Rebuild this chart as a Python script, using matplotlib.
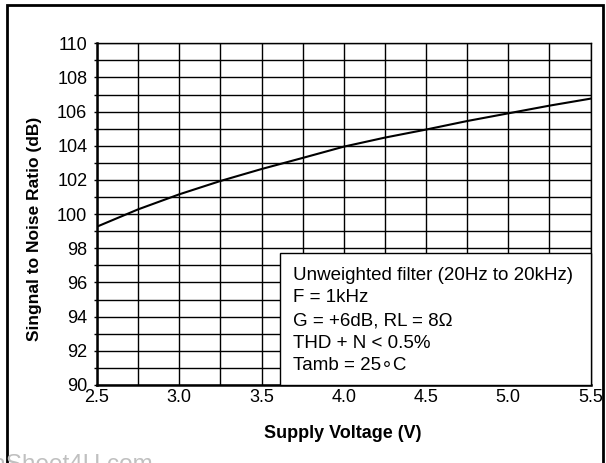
import numpy as np
import matplotlib
matplotlib.use('Agg')
import matplotlib.pyplot as plt
from matplotlib.patches import Rectangle

plt.rcParams['font.family'] = ['Liberation Sans', 'DejaVu Sans']

# データ
voltage = [2.5, 2.75, 3.0, 3.25, 3.5, 3.75, 4.0, 4.25, 4.5, 4.75, 5.0, 5.25, 5.5]
snr_db = [99.27, 100.28, 101.16, 101.94, 102.64, 103.29, 103.95, 104.48, 104.95,
          105.45, 105.9, 106.35, 106.76]

x_major = [2.5, 3.0, 3.5, 4.0, 4.5, 5.0, 5.5]
x_minor = [2.75, 3.25, 3.75, 4.25, 4.75, 5.25]
y_major = [90, 92, 94, 96, 98, 100, 102, 104, 106, 108, 110]
y_minor = [91, 93, 95, 97, 99, 101, 103, 105, 107, 109]

notes = ['Unweighted filter (20Hz to 20kHz)',
         'F = 1kHz',
         'G = +6dB, RL = 8\u03a9',
         'THD + N < 0.5%',
         'Tamb = 25\u2218C']

W, H = 606, 463
fig = plt.figure(figsize=(W / 100, H / 100), dpi=100)
ax = fig.add_axes([97 / W, 1 - 385 / H, (590.5 - 97) / W, (385 - 43.3) / H])

ax.plot(voltage, snr_db, color='black', lw=1.5, zorder=3)

ax.set_xlim(2.5, 5.5)
ax.set_ylim(90, 110)
ax.set_xticks(x_major)
ax.set_xticks(x_minor, minor=True)
ax.set_yticks(y_major)
ax.set_yticks(y_minor, minor=True)
ax.set_xticklabels([f'{v:.1f}' for v in x_major])
ax.grid(True, which='both', color='black', lw=1.0)
ax.tick_params(which='both', direction='out', length=2, width=1, colors='black',
               labelsize=13, pad=5)
ax.tick_params(axis='x', which='both', length=0, pad=3)
for s in ['left', 'bottom']:
    ax.spines[s].set_linewidth(1.8)
for s in ['top', 'right']:
    ax.spines[s].set_linewidth(1.0)

# 軸ラベル
fig.text(343 / W, 1 - 433 / H, 'Supply Voltage (V)', fontsize=13, fontweight='bold',
         ha='center', va='center')
fig.text(34.5 / W, 1 - 228.5 / H, 'Singnal to Noise Ratio (dB)', fontsize=12.5,
         fontweight='bold', rotation=90, ha='center', va='center')

# 条件ボックス
box = Rectangle((280 / W, 1 - 385 / H), (590.5 - 280) / W, (385 - 253) / H,
                transform=fig.transFigure, facecolor='white', edgecolor='black',
                lw=1.0, zorder=4)
fig.add_artist(box)
for i, t in enumerate(notes):
    fig.text(293 / W, 1 - (280 + i * 22.5) / H, t, fontsize=13.5, va='baseline',
             ha='left', zorder=5)

# 外枠
frame = Rectangle((7 / W, -0.1), (603 - 7) / W, 1 - 5 / H + 0.1,
                  transform=fig.transFigure, facecolor='none', edgecolor='black',
                  lw=2.0, zorder=1)
fig.add_artist(frame)

fig.text(153 / W, 1 - 454 / H, 'www.DataSheet4U.com', fontsize=17.5, color='#c0c0c0',
         ha='right', va='top')

plt.savefig('out.png', dpi=100)
